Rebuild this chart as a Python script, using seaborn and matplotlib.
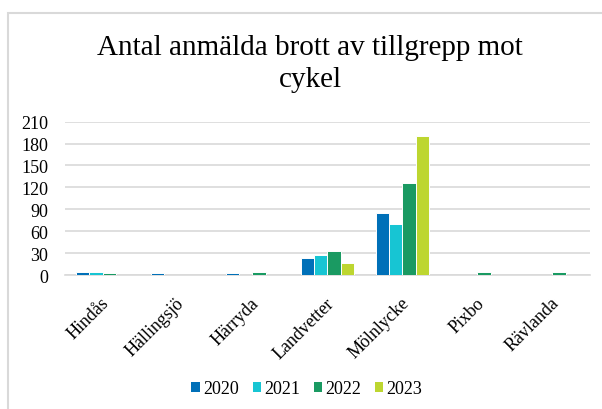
import numpy as np
import pandas as pd
import matplotlib
matplotlib.use("Agg")
import matplotlib.pyplot as plt
import matplotlib.transforms as mtransforms
import seaborn as sns
from matplotlib.patches import Rectangle

places = ["Hindås", "Hällingsjö", "Härryda", "Landvetter", "Mölnlycke", "Pixbo", "Rävlanda"]
years = ["2020", "2021", "2022", "2023"]
v2020 = [4, 3, 3, 23, 85, 0, 0]
v2021 = [4, 0, 0, 28, 70, 0, 0]
v2022 = [3, 0, 4, 33, 126, 4, 4]
v2023 = [0, 0, 0, 17, 191, 0, 0]
colors = ["#0070B8", "#17C5D3", "#1A9A62", "#BDD630"]
yticks = [0, 30, 60, 90, 120, 150, 180, 210]

rows = []
for y, vals in zip(years, [v2020, v2021, v2022, v2023]):
    for p, v in zip(places, vals):
        rows.append({"place": p, "year": y, "value": v})
df = pd.DataFrame(rows)

sns.set_theme(style="white")
plt.rcParams["font.family"] = ["Liberation Serif", "DejaVu Serif"]

fig = plt.figure(figsize=(6.02, 4.10), dpi=100)
ax = fig.add_axes([0.108, 0.3268, 0.872, 0.374])

sns.barplot(data=df, x="place", y="value", hue="year", order=places, hue_order=years,
            palette=colors, saturation=1, width=0.7, edgecolor="white", linewidth=0.7,
            ax=ax, legend=True)

for p in ax.patches:
    p.set_zorder(3)
    if p.get_height() == 0:
        p.set_linewidth(0)

ax.set_ylim(0, 210)
ax.set_xlim(-0.5, 6.5)
ax.set_yticks(yticks)
ax.set_yticklabels([str(t) for t in yticks], fontsize=13, color="#000000")
ax.yaxis.grid(True, color="#D9D9D9", linewidth=1.2)
ax.set_axisbelow(True)
for s in ["top", "right", "left"]:
    ax.spines[s].set_visible(False)
ax.spines["bottom"].set_color("#D9D9D9")
ax.spines["bottom"].set_linewidth(1.2)
ax.spines["bottom"].set_zorder(1)
ax.tick_params(axis="both", length=0)
ax.tick_params(axis="y", pad=12)
ax.tick_params(axis="x", pad=18)
ax.set_xlabel("")
ax.set_ylabel("")
shift = mtransforms.ScaledTranslation(4 / 100, 0, fig.dpi_scale_trans)
for lab in ax.get_xticklabels():
    lab.set_rotation(45)
    lab.set_ha("right")
    lab.set_va("center")
    lab.set_rotation_mode("anchor")
    lab.set_fontsize(13)
    lab.set_color("#000000")
    lab.set_transform(lab.get_transform() + shift)

leg = ax.legend(loc="center", bbox_to_anchor=(0.51, 1 - 390 / 410),
                bbox_transform=fig.transFigure, ncol=4, frameon=False,
                fontsize=13, handlelength=0.45, handleheight=0.45,
                handletextpad=0.2, columnspacing=0.75)
for t in leg.get_texts():
    t.set_color("#000000")

fig.text(0.515, 0.915, "Antal anmälda brott av tillgrepp mot\ncykel", ha="center", va="top",
         fontsize=21, color="#000000", linespacing=1.3)

fig.patches.append(Rectangle((8 / 602, -0.1), 1.2, (410 - 14) / 410 + 0.1, transform=fig.transFigure,
                             fill=False, edgecolor="#D9D9D9", linewidth=1.5, figure=fig))

fig.savefig("out.png", dpi=100)
